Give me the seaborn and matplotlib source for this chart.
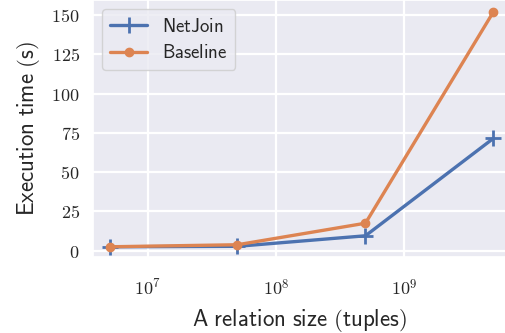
import matplotlib
matplotlib.use("Agg")
import matplotlib.pyplot as plt
import seaborn as sns
import pandas as pd
import numpy as np
from matplotlib.ticker import FuncFormatter, LogLocator, NullLocator

sizes = [5e6, 5e7, 5e8, 5e9]
netjoin = [2.5, 2.8, 9.5, 71.5]
baseline = [2.5, 3.8, 17.5, 152.0]
series_names = ["NetJoin", "Baseline"]

sns.set_theme(style="darkgrid", rc={"grid.linewidth": 1.6})
plt.rcParams["mathtext.fontset"] = "cm"

df = pd.DataFrame({
    "size": sizes * 2,
    "time": netjoin + baseline,
    "system": [series_names[0]] * len(sizes) + [series_names[1]] * len(sizes),
})

fig = plt.figure(figsize=(5.06, 3.33), dpi=100)
ax = fig.add_axes([93 / 506, 1 - 257 / 333, 1 - 93 / 506, 257 / 333])

palette = {"NetJoin": "#4c72b0", "Baseline": "#dd8452"}
for name, m, ms, mew in [("NetJoin", "+", 11, 2.0), ("Baseline", "o", 6, 1.0)]:
    d = df[df["system"] == name]
    sns.lineplot(data=d, x="size", y="time", ax=ax, color=palette[name],
                 marker=m, markersize=ms, markeredgewidth=mew,
                 markeredgecolor=palette[name], linewidth=2.4,
                 label=r"$\mathsf{%s}$" % name)

ax.set_xscale("log")
ax.set_xlim(10 ** 6.57, 10 ** 9.797)
ax.set_ylim(-4, 159.5)
ax.xaxis.set_major_locator(LogLocator(base=10, numticks=10))
ax.xaxis.set_minor_locator(NullLocator())
ax.xaxis.set_major_formatter(FuncFormatter(lambda v, p: r"$10^{%d}$" % round(np.log10(v))))
ax.set_yticks([0, 25, 50, 75, 100, 125, 150])
ax.yaxis.set_major_formatter(FuncFormatter(lambda v, p: r"$%d$" % v))
ax.tick_params(axis="both", labelsize=13)
ax.tick_params(axis="x", pad=10)

ax.set_xlabel(r"$\mathsf{A\ relation\ size\ (tuples)}$", fontsize=16.5, labelpad=5)
ax.set_ylabel(r"$\mathsf{Execution\ time\ (s)}$", fontsize=16.5, labelpad=7)

leg = ax.legend(loc="upper left", fontsize=13.5, frameon=True, handlelength=2.0,
                borderaxespad=0.5, labelspacing=0.4)

fig.savefig("out.png", dpi=100)
